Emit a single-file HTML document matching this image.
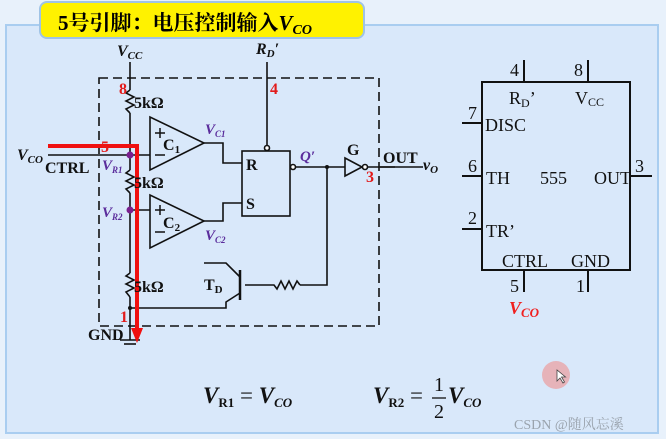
<!DOCTYPE html>
<html><head><meta charset="utf-8"><style>
html,body{margin:0;padding:0;background:#e6f0fb;}
svg{display:block;}
text{font-family:"Liberation Serif","Noto Serif CJK SC",serif;}
</style></head><body>
<svg width="666" height="439" viewBox="0 0 666 439" xmlns="http://www.w3.org/2000/svg">
<rect x="0" y="0" width="666" height="439" fill="#e8f1fb"/>
<rect x="6" y="25" width="652" height="408" fill="#d9e8fa" stroke="#a9cdf0" stroke-width="2"/>
<rect x="40" y="2" width="324" height="36" rx="7" fill="#fff200" stroke="#9fc3e6" stroke-width="2"/>
<text x="58" y="30" font-size="21" font-weight="bold" font-family="Liberation Serif,Noto Sans CJK SC,sans-serif">5号引脚：电压控制输入<tspan font-style="italic">V</tspan><tspan font-style="italic" font-size="14" dy="4">CO</tspan></text>

<g stroke="#111" stroke-width="1.6" fill="none">
<rect x="99" y="78" width="280" height="248" stroke-dasharray="9,5"/>
<line x1="130" y1="62" x2="130" y2="90"/>
<polyline points="130,90 126,93 134,97 126,101 134,105 126,109 130,113"/>
<line x1="130" y1="113" x2="130" y2="170"/>
<polyline points="130,170 126,173 134,177 126,181 134,185 126,189 130,193"/>
<line x1="130" y1="193" x2="130" y2="273"/>
<polyline points="130,273 126,276 134,280 126,284 134,288 126,292 130,297"/>
<line x1="130" y1="297" x2="130" y2="340"/>
<line x1="120" y1="340" x2="140" y2="340"/>
<line x1="124" y1="344" x2="136" y2="344"/>
<line x1="48" y1="155" x2="150" y2="155"/>
<line x1="130" y1="210" x2="150" y2="210"/>
<polygon points="150,117 150,170 204,143"/>
<polygon points="150,195 150,248 204,221"/>
<polyline points="204,143 223,143 223,163 242,163"/>
<polyline points="204,221 223,221 223,203 242,203"/>
<rect x="242" y="151" width="48" height="65"/>
<line x1="267" y1="62" x2="267" y2="145"/>
<circle cx="267" cy="148" r="2.5" fill="#fff"/>
<circle cx="293" cy="167" r="2.5" fill="#fff"/>
<line x1="296" y1="167" x2="345" y2="167"/>
<polygon points="345,158 345,176 362,167"/>
<circle cx="365" cy="167" r="2.5" fill="#fff"/>
<line x1="368" y1="167" x2="395" y2="167"/>
<polyline points="327,167 327,285 300,285"/>
<polyline points="300,285 297,281 293,289 289,281 285,289 281,281 277,289 274,285 245,285"/>
<line x1="240" y1="270" x2="240" y2="300" stroke-width="2.5"/>
<polyline points="240,277 226,263 204,263"/>
<polyline points="240,293 226,302 226,308 130,308"/>
</g>
<circle cx="130" cy="155" r="3.5" fill="#7a1f8f"/>
<circle cx="130" cy="210" r="3.5" fill="#7a1f8f"/>
<circle cx="130" cy="308" r="2" fill="#111"/>
<circle cx="327" cy="167" r="2" fill="#111"/>
<g stroke="#111" stroke-width="1.5">
<line x1="155" y1="133" x2="165" y2="133"/><line x1="160" y1="128" x2="160" y2="138"/>
<line x1="155" y1="155" x2="165" y2="155"/>
<line x1="155" y1="210" x2="165" y2="210"/><line x1="160" y1="205" x2="160" y2="215"/>
<line x1="155" y1="232" x2="165" y2="232"/>
</g>
<g stroke="#f01010" stroke-width="4" fill="none">
<polyline points="48,146 137,146 137,333"/>
</g>
<polygon points="131,328 143,328 137,343" fill="#f01010"/>

<g font-size="16" fill="#111">
<text x="117" y="56" font-style="italic" font-weight="bold">V<tspan font-size="11" dy="3">CC</tspan></text>
<text x="256" y="54" font-style="italic" font-weight="bold">R<tspan font-size="11" dy="3">D</tspan><tspan dy="-3">′</tspan></text>
<text x="134" y="108" font-weight="bold">5kΩ</text>
<text x="134" y="188" font-weight="bold">5kΩ</text>
<text x="134" y="292" font-weight="bold">5kΩ</text>
<text x="17" y="160" font-style="italic" font-weight="bold">V<tspan font-size="11" dy="3">CO</tspan></text>
<text x="45" y="173" font-weight="bold">CTRL</text>
<text x="163" y="150" font-weight="bold">C<tspan font-size="11" dy="3">1</tspan></text>
<text x="163" y="228" font-weight="bold">C<tspan font-size="11" dy="3">2</tspan></text>
<text x="246" y="170" font-weight="bold">R</text>
<text x="246" y="209" font-weight="bold">S</text>
<text x="347" y="155" font-weight="bold" font-family="Liberation Sans,sans-serif">G</text>
<text x="383" y="163" font-weight="bold">OUT</text>
<line x1="380" y1="167" x2="423" y2="167" stroke="#111" stroke-width="1.5"/>
<text x="423" y="170" font-style="italic" font-weight="bold">v<tspan font-size="11" dy="3">O</tspan></text>
<text x="204" y="290" font-weight="bold">T<tspan font-size="11" dy="3">D</tspan></text>
<text x="88" y="340" font-weight="bold">GND</text>
</g>
<g font-size="16" fill="#e21b1b" font-weight="bold">
<text x="119" y="94">8</text>
<text x="270" y="94">4</text>
<text x="101" y="152">5</text>
<text x="366" y="182">3</text>
<text x="120" y="322">1</text>
</g>
<g font-size="15" fill="#5b2d9c" font-style="italic" font-weight="bold">
<text x="205" y="134">V<tspan font-size="9" dy="3">C1</tspan></text>
<text x="205" y="240">V<tspan font-size="9" dy="3">C2</tspan></text>
<text x="102" y="170">V<tspan font-size="9" dy="3">R1</tspan></text>
<text x="102" y="217">V<tspan font-size="9" dy="3">R2</tspan></text>
<text x="300" y="161">Q′</text>
</g>

<g stroke="#111" stroke-width="2" fill="none">
<rect x="482" y="82" width="148" height="188"/>
<line x1="524" y1="60" x2="524" y2="82"/>
<line x1="588" y1="60" x2="588" y2="82"/>
<line x1="462" y1="123" x2="482" y2="123"/>
<line x1="462" y1="176" x2="482" y2="176"/>
<line x1="462" y1="229" x2="482" y2="229"/>
<line x1="630" y1="176" x2="652" y2="176"/>
<line x1="524" y1="270" x2="524" y2="292"/>
<line x1="588" y1="270" x2="588" y2="292"/>
</g>
<g font-size="18" fill="#111">
<text x="510" y="76">4</text><text x="574" y="76">8</text>
<text x="509" y="104">R<tspan font-size="12" dy="3">D</tspan><tspan dy="-3">’</tspan></text>
<text x="575" y="104">V<tspan font-size="12" dy="2">CC</tspan></text>
<text x="468" y="119">7</text><text x="485" y="131">DISC</text>
<text x="468" y="172">6</text><text x="486" y="184">TH</text>
<text x="540" y="184">555</text><text x="594" y="184">OUT</text>
<text x="635" y="172">3</text>
<text x="468" y="224">2</text><text x="486" y="237">TR’</text>
<text x="502" y="267">CTRL</text><text x="571" y="267">GND</text>
<text x="510" y="292">5</text><text x="576" y="292">1</text>
</g>
<text x="509" y="314" font-size="18" fill="#f02020" font-style="italic" font-weight="bold" font-family="Liberation Sans,sans-serif">V<tspan font-size="13" dy="3">CO</tspan></text>

<g font-size="23" fill="#111" font-style="italic" font-weight="bold">
<text x="203" y="403">V<tspan font-size="13" dy="4" font-style="normal">R1</tspan><tspan dy="-4" font-style="normal" font-weight="normal"> = </tspan>V<tspan font-size="13" dy="4">CO</tspan></text>
<text x="373" y="403">V<tspan font-size="13" dy="4" font-style="normal">R2</tspan><tspan dy="-4" font-style="normal" font-weight="normal"> = </tspan></text>
<text x="439" y="391" font-size="20" font-style="normal" font-weight="normal" text-anchor="middle">1</text>
<line x1="432" y1="398" x2="446" y2="398" stroke="#111" stroke-width="1.3"/>
<text x="439" y="418" font-size="20" font-style="normal" font-weight="normal" text-anchor="middle">2</text>
<text x="448" y="403">V<tspan font-size="13" dy="4">CO</tspan></text>
</g>
<circle cx="556" cy="375" r="14" fill="#e8a9ad" opacity="0.85"/>
<path d="M557,370 l0,11 l3,-3 l3,5 l1.5,-1 l-3,-5 l4,0 z" fill="#fff" stroke="#444" stroke-width="0.8"/>
<text x="514" y="429" font-size="14" fill="#9aa3ad" font-family="Liberation Sans,Noto Sans CJK SC,sans-serif">CSDN @随风忘溪</text>
</svg>
</body></html>
